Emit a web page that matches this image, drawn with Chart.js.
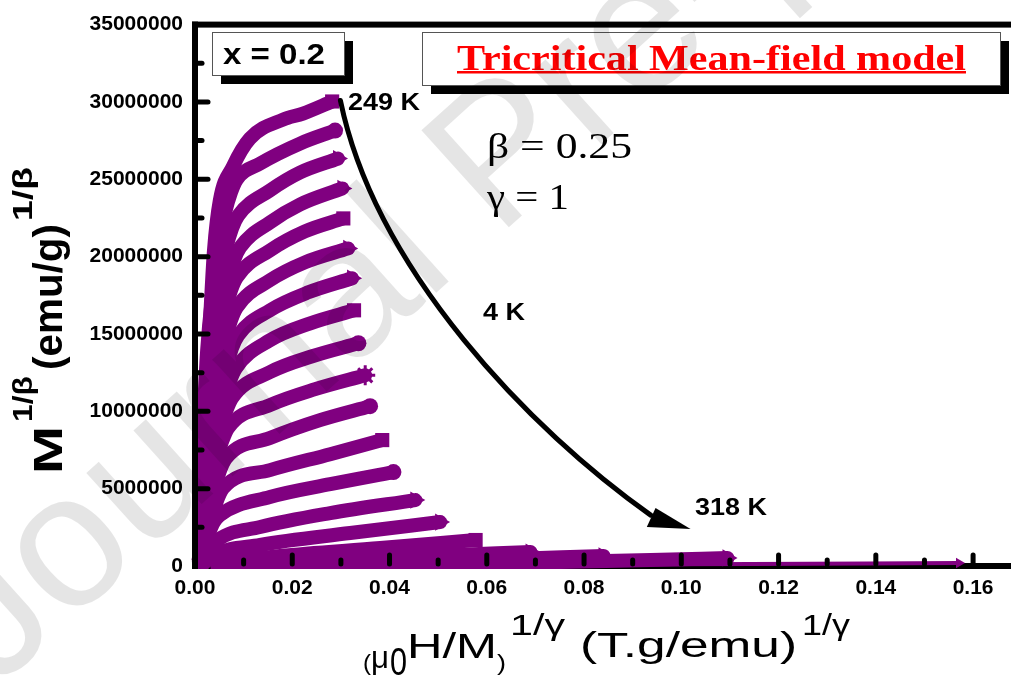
<!DOCTYPE html>
<html>
<head>
<meta charset="utf-8">
<script src="https://cdn.jsdelivr.net/npm/chart.js@4.4.0/dist/chart.umd.min.js"></script>
<style>
  html, body { margin: 0; padding: 0; background: #fff; }
  /* the plot frame runs off the right edge, so the canvas is a bit wider than the view */
  #wrap { width: 1011px; height: 677px; overflow: hidden; }
</style>
</head>
<body>
<div id="wrap"><canvas id="myChart" width="1025" height="677"></canvas></div>
<script>
// isotherm temperatures (K), top curve first
const temps = [249, 253, 257, 261, 265, 269, 273, 277, 281, 285, 289, 293, 297, 301, 305, 309, 312, 314, 316, 318];

// (mu0 H / M)^(1/gamma) for each isotherm
const fieldRatio = [
  [0.0008, 0.0019, 0.0029, 0.0033, 0.0039, 0.0051, 0.0078, 0.0113, 0.0181, 0.0222, 0.0282],
  [0.0008, 0.0016, 0.0025, 0.0037, 0.0049, 0.0062, 0.0074, 0.0086, 0.0134, 0.0216, 0.0288],
  [0.0008, 0.0016, 0.0027, 0.0039, 0.0051, 0.0064, 0.0076, 0.0089, 0.0154, 0.0216, 0.0294],
  [0.0008, 0.0019, 0.0031, 0.0043, 0.0056, 0.0068, 0.0080, 0.0093, 0.0154, 0.0216, 0.0303],
  [0.0008, 0.0019, 0.0037, 0.0049, 0.0062, 0.0074, 0.0086, 0.0154, 0.0226, 0.0305],
  [0.0008, 0.0021, 0.0037, 0.0049, 0.0062, 0.0074, 0.0086, 0.0154, 0.0226, 0.0315],
  [0.0008, 0.0021, 0.0039, 0.0051, 0.0064, 0.0076, 0.0089, 0.0154, 0.0233, 0.0323],
  [0.0008, 0.0021, 0.0035, 0.0047, 0.0060, 0.0072, 0.0084, 0.0154, 0.0237, 0.0327],
  [0.0008, 0.0027, 0.0039, 0.0051, 0.0064, 0.0076, 0.0154, 0.0241, 0.0336],
  [0.0008, 0.0019, 0.0031, 0.0043, 0.0056, 0.0068, 0.0154, 0.0247, 0.0350],
  [0.0008, 0.0027, 0.0039, 0.0051, 0.0064, 0.0154, 0.0257, 0.0360],
  [0.0008, 0.0021, 0.0033, 0.0045, 0.0058, 0.0154, 0.0278, 0.0385],
  [0.0008, 0.0019, 0.0029, 0.0039, 0.0051, 0.0154, 0.0278, 0.0408],
  [0.0008, 0.0023, 0.0035, 0.0047, 0.0134, 0.0278, 0.0453],
  [0.0019, 0.0035, 0.0134, 0.0319, 0.0504],
  [0.0031, 0.0175, 0.0381, 0.0577],
  [0.0062, 0.0257, 0.0484, 0.0690],
  [0.0093, 0.0319, 0.0587, 0.0840],
  [0.0134, 0.0422, 0.0752, 0.0937, 0.1095],
  [0.0175, 0.0628, 0.1143, 0.1571]
];

// M^(1/beta) for each isotherm
const magPow = [
  [0.39e6, 6.84e6, 14.59e6, 17.18e6, 20.40e6, 23.63e6, 25.83e6, 27.64e6, 28.86e6, 29.25e6, 30.03e6],
  [0.39e6, 8.14e6, 13.95e6, 17.89e6, 20.79e6, 22.86e6, 24.15e6, 24.99e6, 26.02e6, 27.31e6, 28.15e6],
  [0.39e6, 6.84e6, 12.01e6, 15.56e6, 18.47e6, 20.53e6, 21.82e6, 22.66e6, 24.28e6, 25.44e6, 26.34e6],
  [0.39e6, 6.20e6, 10.72e6, 13.50e6, 16.40e6, 18.47e6, 19.76e6, 20.60e6, 22.21e6, 23.37e6, 24.41e6],
  [0.39e6, 5.55e6, 11.56e6, 14.46e6, 16.53e6, 17.82e6, 18.66e6, 20.40e6, 21.63e6, 22.47e6],
  [0.39e6, 4.91e6, 9.62e6, 12.53e6, 14.59e6, 15.88e6, 16.72e6, 18.47e6, 19.63e6, 20.53e6],
  [0.39e6, 4.26e6, 7.81e6, 10.72e6, 12.78e6, 14.08e6, 14.92e6, 16.53e6, 17.69e6, 18.60e6],
  [0.39e6, 3.29e6, 5.68e6, 8.59e6, 10.65e6, 11.95e6, 12.78e6, 14.59e6, 15.69e6, 16.53e6],
  [0.39e6, 3.75e6, 6.65e6, 8.72e6, 10.01e6, 10.85e6, 12.53e6, 13.56e6, 14.40e6],
  [0.39e6, 2.32e6, 4.71e6, 6.78e6, 8.07e6, 8.91e6, 10.40e6, 11.43e6, 12.33e6],
  [0.39e6, 2.78e6, 4.84e6, 6.13e6, 6.97e6, 8.27e6, 9.43e6, 10.33e6],
  [0.39e6, 1.36e6, 2.91e6, 4.20e6, 5.04e6, 6.20e6, 7.23e6, 8.14e6],
  [0.39e6, 1.16e6, 2.13e6, 2.84e6, 3.29e6, 4.46e6, 5.29e6, 6.07e6],
  [0.26e6, 0.65e6, 1.23e6, 1.68e6, 2.52e6, 3.42e6, 4.26e6],
  [0.19e6, 0.65e6, 1.36e6, 2.13e6, 2.84e6],
  [0.13e6, 0.65e6, 1.16e6, 1.68e6],
  [0.06e6, 0.32e6, 0.65e6, 0.90e6],
  [0.00e6, 0.13e6, 0.39e6, 0.65e6],
  [0.00e6, 0.06e6, 0.26e6, 0.39e6, 0.52e6],
  [0.01e6, 0.06e6, 0.13e6, 0.19e6]
];

// symbol that shows at the high-field end of each isotherm
const endMarkers = ['rect', 'circle', 'triangle', 'triangle', 'rect', 'triangle', 'triangle', 'rect',
  'circle', 'star', 'circle', 'rect', 'circle', 'triangle', 'triangle', 'rect', 'triangle', 'triangle',
  'triangle', 'triangle'];

// T-sweep arrow (data units): bezier start, two controls, end, then the head
const arrowX = [0.0299, 0.0371, 0.0690, 0.0937];
const arrowY = [30.09e6, 19.11e6, 8.78e6, 3.29e6];
const headX = [0.1019, 0.0929, 0.0947];
const headY = [2.39e6, 2.52e6, 3.75e6];

const purple = '#800080';
const sans = '"Liberation Sans", Arial, sans-serif';
const serif = '"Liberation Serif", "Times New Roman", serif';

// draw text squeezed/stretched to an exact width
function fitText(ctx, text, left, base, font, width) {
  ctx.font = font;
  const w = ctx.measureText(text).width;
  ctx.save();
  ctx.translate(left, base);
  ctx.scale(width / w, 1);
  ctx.textAlign = 'left';
  ctx.textBaseline = 'alphabetic';
  ctx.fillText(text, 0, 0);
  ctx.restore();
}

function shadowBox(ctx, x, y, w, h, off) {
  ctx.fillStyle = '#000';
  ctx.fillRect(x + off, y + off, w, h);
  ctx.fillStyle = '#fff';
  ctx.fillRect(x, y, w, h);
  ctx.strokeStyle = '#555';
  ctx.lineWidth = 1;
  ctx.strokeRect(x + 0.5, y + 0.5, w, h);
}

const decor = {
  id: 'decor',
  afterDatasetsDraw(chart) {
    const { ctx, chartArea: a, scales: { x, y } } = chart;
    ctx.save();

    // inward ticks, majors longer
    ctx.strokeStyle = '#000';
    ctx.lineCap = 'round';
    ctx.lineWidth = 5;
    for (let i = 1; i <= 16; i++) {
      const px = x.getPixelForValue(i / 100);
      const len = i % 2 ? 4 : 9;
      ctx.beginPath();
      ctx.moveTo(px, a.bottom - 2);
      ctx.lineTo(px, a.bottom - 2 - len);
      ctx.stroke();
    }
    for (let i = 1; i <= 13; i++) {
      const py = y.getPixelForValue(i * 2.5e6);
      const len = i % 2 ? 5 : 11;
      ctx.beginPath();
      ctx.moveTo(a.left + 2, py);
      ctx.lineTo(a.left + 2 + len, py);
      ctx.stroke();
    }

    // temperature arrow
    const ax = arrowX.map(v => x.getPixelForValue(v));
    const ay = arrowY.map(v => y.getPixelForValue(v));
    ctx.lineWidth = 5;
    ctx.beginPath();
    ctx.moveTo(ax[0], ay[0]);
    ctx.bezierCurveTo(ax[1], ay[1], ax[2], ay[2], ax[3], ay[3]);
    ctx.stroke();
    ctx.fillStyle = '#000';
    ctx.beginPath();
    headX.forEach((v, i) => {
      const px = x.getPixelForValue(v), py = y.getPixelForValue(headY[i]);
      if (i === 0) ctx.moveTo(px, py); else ctx.lineTo(px, py);
    });
    ctx.closePath();
    ctx.fill();

    ctx.fillStyle = '#000';
    fitText(ctx, '249 K', 348, 110, 'bold 24px ' + sans, 72);
    fitText(ctx, '4 K', 483, 320, 'bold 24px ' + sans, 42);
    fitText(ctx, '318 K', 695, 515, 'bold 24px ' + sans, 72);

    // sample box
    shadowBox(ctx, 212, 32, 132, 43, 9);
    ctx.fillStyle = '#000';
    fitText(ctx, 'x = 0.2', 223, 64, 'bold 29px ' + sans, 102);

    // model box
    shadowBox(ctx, 422, 32, 578, 53, 9);
    ctx.fillStyle = '#ff0000';
    fitText(ctx, 'Tricritical Mean-field model', 457, 70, 'bold 35px ' + serif, 509);
    ctx.fillRect(457, 71, 509, 2.5);

    ctx.fillStyle = '#000';
    fitText(ctx, 'β = 0.25', 487, 158, '36px ' + serif, 145);
    fitText(ctx, 'γ = 1', 487, 209, '36px ' + serif, 82);

    // x axis title
    fitText(ctx, '(', 363, 670, '22px ' + sans, 8);
    fitText(ctx, 'μ', 371, 668, '32px ' + sans, 18);
    fitText(ctx, '0', 390, 675, '38px ' + sans, 17);
    fitText(ctx, 'H/M', 407, 658, '35px ' + sans, 90);
    fitText(ctx, ')', 497, 670, '22px ' + sans, 9);
    fitText(ctx, '1/γ', 510, 635, '30px ' + sans, 55);
    fitText(ctx, '(T.g/emu)', 580, 657, '35px ' + sans, 217);
    fitText(ctx, '1/γ', 802, 635, '30px ' + sans, 48);

    // y axis title, reading upward
    ctx.save();
    ctx.translate(62, 0);
    ctx.rotate(-Math.PI / 2);
    fitText(ctx, 'M', -474, 0, 'bold 40px ' + sans, 48);
    fitText(ctx, '1/β', -422, -30, 'bold 28px ' + sans, 46);
    fitText(ctx, '(emu/g)', -370, 0, 'bold 40px ' + sans, 146);
    fitText(ctx, '1/β', -221, -30, 'bold 28px ' + sans, 54);
    ctx.restore();
    ctx.restore();
  },
  afterDraw(chart) {
    const { ctx, chartArea: a } = chart;
    ctx.save();
    // frame: top edge and left axis line, on top of the curves
    ctx.fillStyle = '#000';
    ctx.fillRect(a.left - 3, a.top - 3, a.right - a.left + 3, 6);
    ctx.fillRect(a.left - 3, a.top - 3, 6, a.bottom - a.top + 6);

    // watermark
    ctx.translate(-5, 690);
    ctx.rotate(-42 * Math.PI / 180);
    ctx.font = '190px ' + sans;
    ctx.fillStyle = 'rgba(0,0,0,0.1)';
    ctx.fillText('Journal Pre-proof', 0, 0);
    ctx.restore();
  }
};

const ctx = document.getElementById('myChart');
const lastIdx = fieldRatio.length - 1;

const myChart = new Chart(ctx, {
  type: 'scatter',
  data: {
    datasets: temps.map((t, i) => ({
      label: t + ' K',
      data: fieldRatio[i].map((v, j) => ({ x: v, y: magPow[i][j] })),
      showLine: true,
      borderColor: purple,
      backgroundColor: purple,
      borderWidth: i === lastIdx ? 4 : 14,
      borderCapStyle: endMarkers[i] === 'rect' ? 'butt' : 'round',
      borderJoinStyle: 'round',
      cubicInterpolationMode: 'monotone',
      pointStyle: endMarkers[i],
      pointRotation: endMarkers[i] === 'triangle' ? 90 : 0,
      pointRadius: c => {
        if (c.dataIndex !== fieldRatio[i].length - 1) return 0;
        if (i === lastIdx) return 6;
        return endMarkers[i] === 'circle' ? 8 : 10;
      },
      pointBorderColor: purple,
      pointBorderWidth: endMarkers[i] === 'star' ? 3 : 0,
      pointHoverRadius: 0,
      clip: { left: 6, top: 30, right: 30, bottom: 3 }
    }))
  },
  options: {
    responsive: false,
    animation: false,
    devicePixelRatio: 1,
    layout: { padding: { top: 24, left: 0, right: 0, bottom: 0 } },
    plugins: { legend: { display: false }, tooltip: { enabled: false } },
    scales: {
      x: {
        type: 'linear',
        min: 0,
        max: 0.168,
        grid: { display: false, drawTicks: false },
        border: { display: true, color: '#000', width: 6 },
        ticks: {
          stepSize: 0.02,
          includeBounds: false,
          padding: 10,
          color: '#000',
          font: { family: sans, size: 21, weight: 'bold' },
          callback: v => v.toFixed(2)
        },
        afterFit: s => { s.height = 111; }
      },
      y: {
        min: 0,
        max: 35000000,
        grid: { display: false, drawTicks: false },
        border: { display: false },
        ticks: {
          stepSize: 5000000,
          padding: 12,
          color: '#000',
          font: { family: sans, size: 21, weight: 'bold' },
          callback: v => String(v)
        },
        afterFit: s => { s.width = 195; }
      }
    }
  },
  plugins: [decor]
});
</script>
</body>
</html>
